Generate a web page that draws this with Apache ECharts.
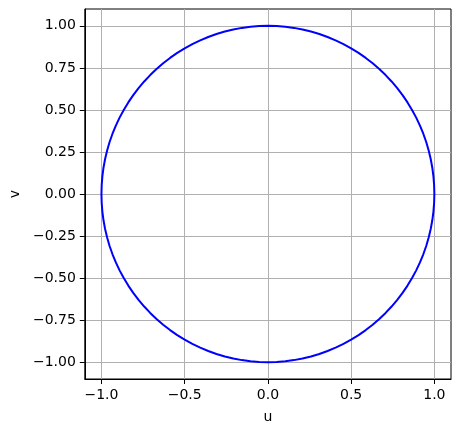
<!DOCTYPE html>
<html><head><meta charset="utf-8">
<script src="https://cdn.jsdelivr.net/npm/echarts@6/dist/echarts.min.js"></script>
<style>html,body{margin:0;padding:0;background:#fff}#c{width:461px;height:432px}</style>
</head><body><div id="c"></div>
<script>
// Points (every 3 degrees)
const uValues = [
 1.0000,0.9986,0.9945,0.9877,0.9781,0.9659,0.9511,0.9336,0.9135,0.8910,0.8660,0.8387,0.8090,0.7771,0.7431,0.7071,0.6691,0.6293,0.5878,0.5446,0.5000,0.4540,0.4067,0.3584,0.3090,0.2588,0.2079,0.1564,0.1045,0.0523,0.0000,
 -0.0523,-0.1045,-0.1564,-0.2079,-0.2588,-0.3090,-0.3584,-0.4067,-0.4540,-0.5000,-0.5446,-0.5878,-0.6293,-0.6691,-0.7071,-0.7431,-0.7771,-0.8090,-0.8387,-0.8660,-0.8910,-0.9135,-0.9336,-0.9511,-0.9659,-0.9781,-0.9877,-0.9945,-0.9986,-1.0000,
 -0.9986,-0.9945,-0.9877,-0.9781,-0.9659,-0.9511,-0.9336,-0.9135,-0.8910,-0.8660,-0.8387,-0.8090,-0.7771,-0.7431,-0.7071,-0.6691,-0.6293,-0.5878,-0.5446,-0.5000,-0.4540,-0.4067,-0.3584,-0.3090,-0.2588,-0.2079,-0.1564,-0.1045,-0.0523,0.0000,
 0.0523,0.1045,0.1564,0.2079,0.2588,0.3090,0.3584,0.4067,0.4540,0.5000,0.5446,0.5878,0.6293,0.6691,0.7071,0.7431,0.7771,0.8090,0.8387,0.8660,0.8910,0.9135,0.9336,0.9511,0.9659,0.9781,0.9877,0.9945,0.9986,1.0000];
const vValues = [
 0.0000,0.0523,0.1045,0.1564,0.2079,0.2588,0.3090,0.3584,0.4067,0.4540,0.5000,0.5446,0.5878,0.6293,0.6691,0.7071,0.7431,0.7771,0.8090,0.8387,0.8660,0.8910,0.9135,0.9336,0.9511,0.9659,0.9781,0.9877,0.9945,0.9986,1.0000,
 0.9986,0.9945,0.9877,0.9781,0.9659,0.9511,0.9336,0.9135,0.8910,0.8660,0.8387,0.8090,0.7771,0.7431,0.7071,0.6691,0.6293,0.5878,0.5446,0.5000,0.4540,0.4067,0.3584,0.3090,0.2588,0.2079,0.1564,0.1045,0.0523,0.0000,
 -0.0523,-0.1045,-0.1564,-0.2079,-0.2588,-0.3090,-0.3584,-0.4067,-0.4540,-0.5000,-0.5446,-0.5878,-0.6293,-0.6691,-0.7071,-0.7431,-0.7771,-0.8090,-0.8387,-0.8660,-0.8910,-0.9135,-0.9336,-0.9511,-0.9659,-0.9781,-0.9877,-0.9945,-0.9986,-1.0000,
 -0.9986,-0.9945,-0.9877,-0.9781,-0.9659,-0.9511,-0.9336,-0.9135,-0.8910,-0.8660,-0.8387,-0.8090,-0.7771,-0.7431,-0.7071,-0.6691,-0.6293,-0.5878,-0.5446,-0.5000,-0.4540,-0.4067,-0.3584,-0.3090,-0.2588,-0.2079,-0.1564,-0.1045,-0.0523,0.0000];
const xTicks = [-1.0,-0.5,0.0,0.5,1.0];
const yTicks = [-1.00,-0.75,-0.50,-0.25,0.00,0.25,0.50,0.75,1.00];

const data = uValues.map((u,i)=>[u, vValues[i]]);
const font = 'DejaVu Sans';
const fmt = d => v => v.toFixed(d).replace('-', '\u2212');
const chart = echarts.init(document.getElementById('c'), null, {renderer:'canvas'});
chart.setOption({
  animation:false,
  grid:{left:82,top:9,right:10,bottom:53,show:true,borderColor:'#000',borderWidth:1,backgroundColor:'transparent'},
  xAxis:{type:'value',min:-1.1,max:1.1,name:'u',nameLocation:'middle',nameGap:31,
    nameTextStyle:{fontFamily:font,fontSize:14,color:'#000'},
    axisLine:{show:true,onZero:false,lineStyle:{color:'#000',width:1}},
    axisTick:{show:true,inside:false,length:5,customValues:xTicks,lineStyle:{color:'#000',width:1}},
    axisLabel:{customValues:xTicks,formatter:fmt(1),fontFamily:font,fontSize:14,color:'#000',margin:9},
    splitLine:{show:true,lineStyle:{color:'#b0b0b0',width:1}}},
  yAxis:{type:'value',min:-1.1,max:1.1,name:'v',nameLocation:'middle',nameGap:62,nameRotate:90,
    nameTextStyle:{fontFamily:font,fontSize:14,color:'#000'},
    axisLine:{show:true,onZero:false,lineStyle:{color:'#000',width:1}},
    axisTick:{show:true,inside:false,length:5,customValues:yTicks,lineStyle:{color:'#000',width:1}},
    axisLabel:{customValues:yTicks,formatter:fmt(2),fontFamily:font,fontSize:14,color:'#000',margin:9},
    splitLine:{show:true,lineStyle:{color:'#b0b0b0',width:1}}},
  series:[{type:'line',data:data,showSymbol:false,smooth:false,
    lineStyle:{color:'#0000ff',width:2},z:3}]
});
</script></body></html>
